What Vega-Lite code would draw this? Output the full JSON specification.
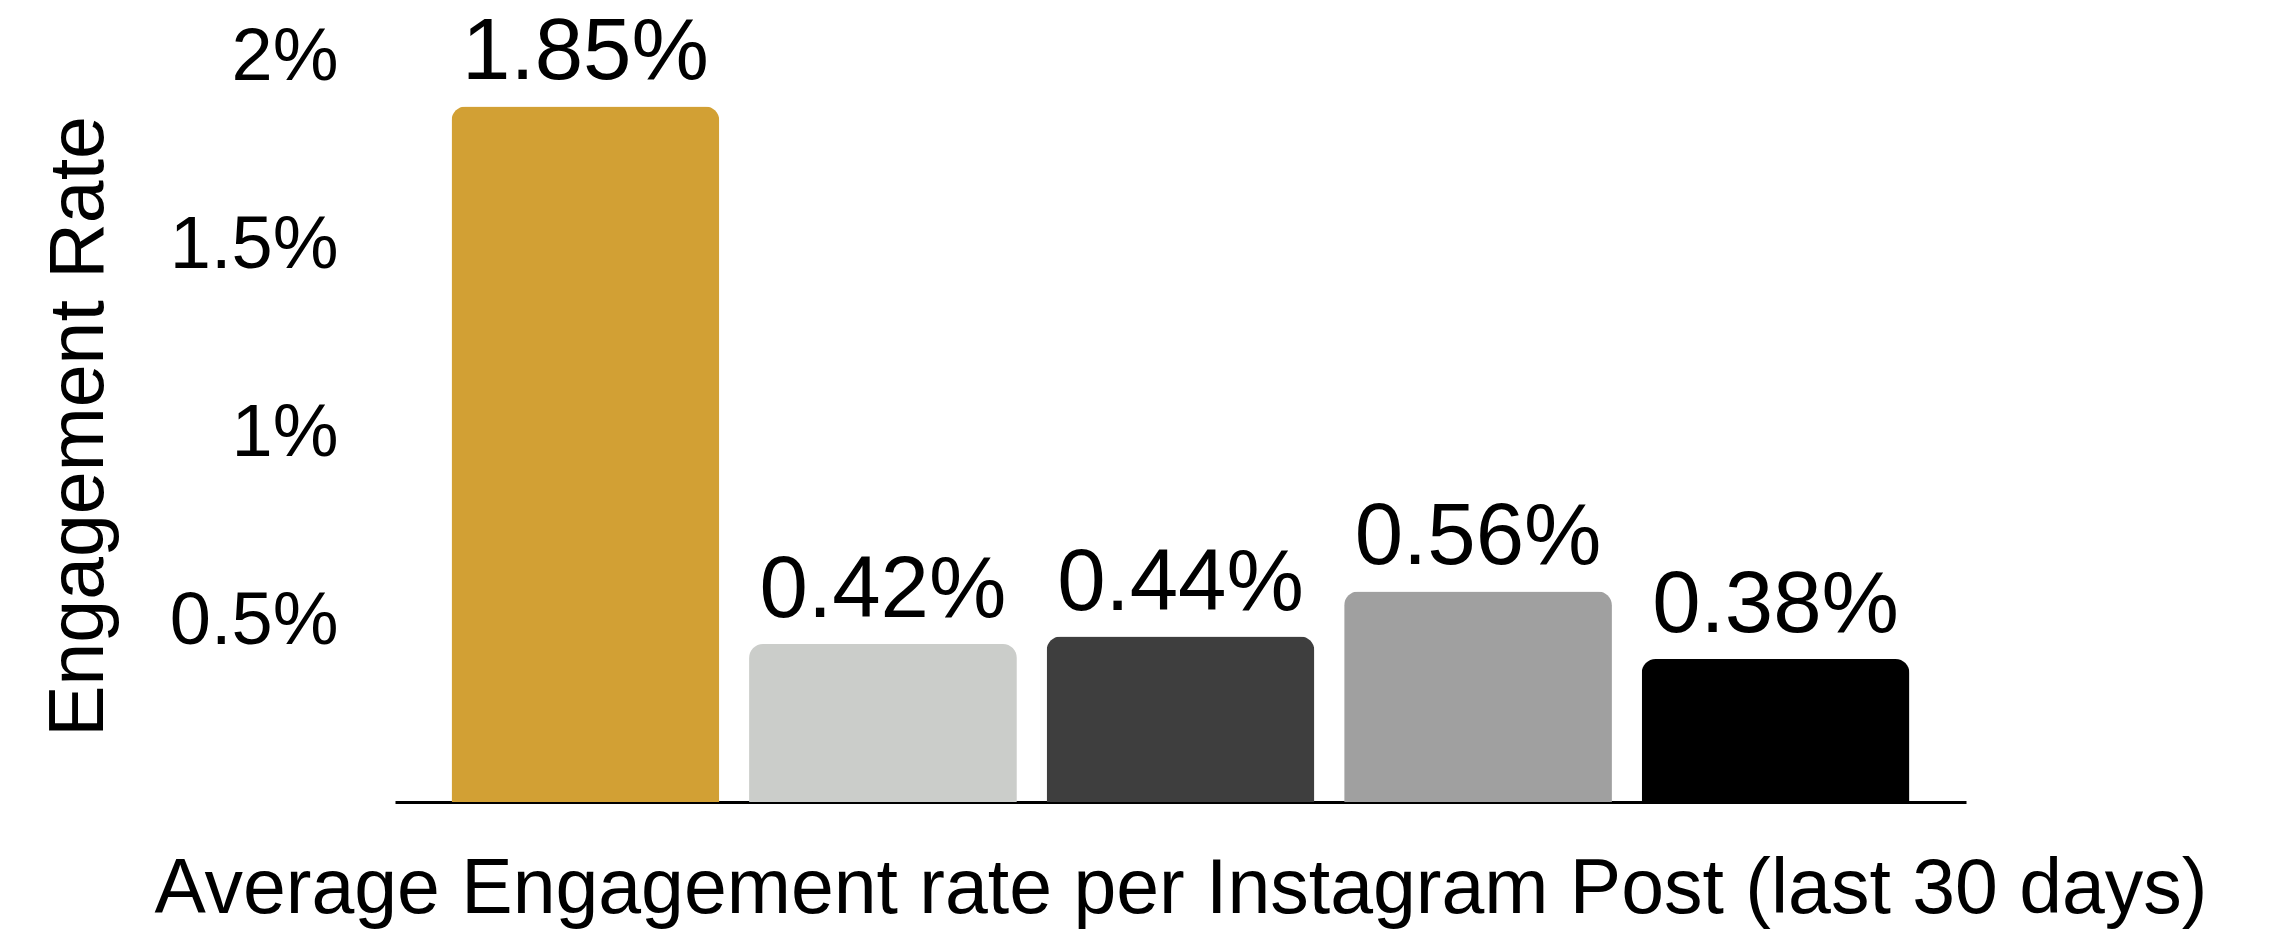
{
  "$schema": "https://vega.github.io/schema/vega-lite/v6.json",
  "width": 1571,
  "height": 752,
  "autosize": {"type": "none"},
  "padding": {"left": 395, "top": 50, "right": 314, "bottom": 132},
  "background": "white",
  "config": {"view": {"stroke": null}, "font": "Liberation Sans"},
  "data": {
    "values": [
      {"account": "Account A", "rate": 0.0185},
      {"account": "Account B", "rate": 0.0042},
      {"account": "Account C", "rate": 0.0044},
      {"account": "Account D", "rate": 0.0056},
      {"account": "Account E", "rate": 0.0038}
    ]
  },
  "encoding": {
    "x": {
      "field": "account",
      "type": "nominal",
      "sort": null,
      "scale": {"paddingInner": 0.1, "paddingOuter": 0.19},
      "axis": {
        "title": "Average Engagement rate per Instagram Post (last 30 days)",
        "labels": false,
        "ticks": false,
        "domainColor": "#000000",
        "domainWidth": 3,
        "titleFont": "Liberation Sans",
        "titleFontSize": 77,
        "titleFontWeight": "normal",
        "titleColor": "#000000",
        "titleBaseline": "alphabetic",
        "titleAlign": "center",
        "titleX": 785.5,
        "titleY": 110
      }
    },
    "y": {
      "field": "rate",
      "type": "quantitative",
      "scale": {"domain": [0, 0.02], "nice": false},
      "axis": {
        "title": "Engagement Rate",
        "values": [0.005, 0.01, 0.015, 0.02],
        "format": ".1~%",
        "grid": false,
        "domain": false,
        "ticks": false,
        "labelFont": "Liberation Sans",
        "labelFontSize": 74,
        "labelColor": "#000000",
        "labelBaseline": "alphabetic",
        "labelOffset": 29,
        "labelPadding": 57,
        "labelFlush": false,
        "labelOverlap": false,
        "labelBound": false,
        "titleFont": "Liberation Sans",
        "titleFontSize": 77,
        "titleFontWeight": "normal",
        "titleColor": "#000000",
        "titleBaseline": "alphabetic",
        "titleAngle": 270,
        "titleAlign": "center",
        "titleX": -293,
        "titleY": 376
      }
    }
  },
  "layer": [
    {
      "mark": {"type": "bar", "cornerRadiusTopLeft": 14, "cornerRadiusTopRight": 14},
      "encoding": {
        "color": {
          "field": "account",
          "type": "nominal",
          "sort": null,
          "scale": {
            "domain": ["Account A", "Account B", "Account C", "Account D", "Account E"],
            "range": ["#D2A034", "#CBCDCA", "#3E3E3E", "#A0A0A0", "#000000"]
          },
          "legend": null
        }
      }
    },
    {
      "mark": {"type": "text", "baseline": "alphabetic", "dy": -27, "fontSize": 87, "color": "#000000", "font": "Liberation Sans"},
      "encoding": {
        "text": {"field": "rate", "type": "quantitative", "format": ".2%"}
      }
    }
  ]
}
